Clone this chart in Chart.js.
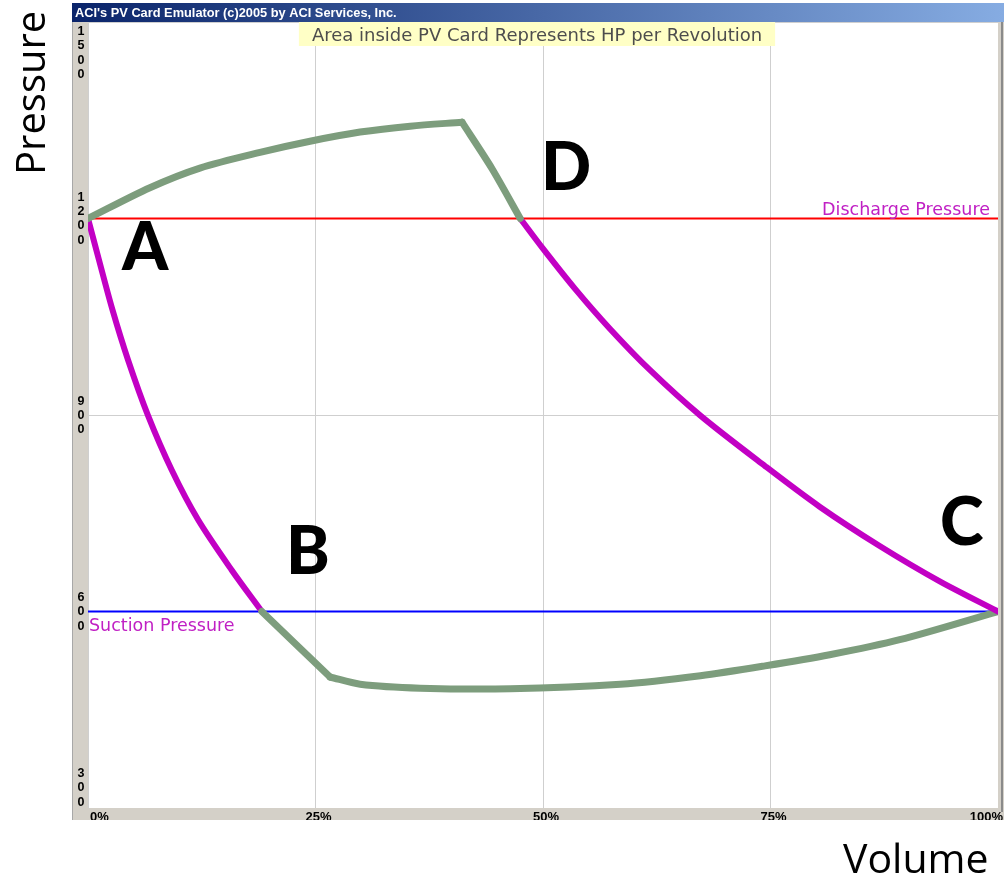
<!DOCTYPE html>
<html>
<head>
<meta charset="utf-8">
<title>PV Card</title>
<script src="https://cdn.jsdelivr.net/npm/chart.js@4.4.0/dist/chart.umd.min.js"></script>
<style>
  html, body { margin: 0; padding: 0; background: #fff; }
  #wrap { width: 1007px; height: 878px; position: relative; }
</style>
</head>
<body>
<div id="wrap"><canvas id="pv" width="1007" height="878"></canvas></div>
<script>
// axis ticks
const volumeTicks = [0, 25, 50, 75, 100];
const volumeTickLabels = ['0%', '25%', '50%', '75%', '100%'];
const pressureTicks = [300, 600, 900, 1200, 1500];
const pressureTickLabels = ['300', '600', '900', '1200', '1500'];

const dischargePressure = 1200;
const suctionPressure = 600;

// cycle pieces, volume in % and pressure
const dischargeVol = [0, 6.8, 12.3, 18.9, 24.4, 29.9, 35.4, 41.1];        // A -> peak
const dischargeP   = [1200, 1247, 1277, 1301, 1318, 1332, 1341, 1347];
const valveDropVol = [41.1, 44.4, 47.5];                                   // peak -> D
const valveDropP   = [1347, 1276, 1200];
const compressVol  = [47.5, 50, 53.5, 57.4, 61.8, 67.3, 74.4, 80.4, 87, 93.6, 100];   // D -> C
const compressP    = [1200, 1154, 1093, 1031, 968, 899, 822, 760, 700, 646, 600];
const suctionVol   = [100, 89.2, 81.5, 74.4, 67.3, 58.5, 46.4, 36.5, 29.9, 26.6];     // C -> corner
const suctionP     = [600, 557, 534, 517, 502, 489, 482, 483, 489, 500];
const valveRiseVol = [26.6, 22.7, 19.1];                                   // corner -> B
const valveRiseP   = [500, 552, 600];
const expandVol    = [19.1, 15.8, 12.1, 9.2, 6.6, 4.4, 2.7, 1.2, 0];       // B -> A
const expandP      = [600, 663, 740, 816, 899, 984, 1060, 1137, 1200];

const GREEN = '#7d9d7d';
const MAGENTA = '#c200c4';

const pts = (xs, ys) => xs.map((x, i) => ({ x: x, y: ys[i] }));

const curve = (xs, ys, color, w, tension) => ({
  data: pts(xs, ys),
  borderColor: color,
  borderWidth: w,
  pointRadius: 0,
  tension: tension,
  borderCapStyle: 'round',
  borderJoinStyle: 'round',
  showLine: true
});

const flat = (p, color) => ({
  data: [{ x: 0, y: p }, { x: 100, y: p }],
  borderColor: color,
  borderWidth: 2,
  pointRadius: 0,
  showLine: true
});

const frame = {
  id: 'frame',
  beforeDraw(chart) {
    const c = chart.ctx;
    c.save();
    c.fillStyle = '#fff';
    c.fillRect(0, 0, 1007, 878);
    c.restore();
  },
  afterDraw(chart) {
    const c = chart.ctx;
    const xs = chart.scales.x, ys = chart.scales.y;
    const area = chart.chartArea;
    c.save();

    // window strips
    c.fillStyle = '#d4d0c8';
    c.fillRect(72, 22, area.left - 72, 798);
    c.fillRect(72, area.bottom, 932, 820 - area.bottom);
    c.fillRect(area.right, 22, 6, 798);
    c.fillStyle = '#8a8a8a';
    c.fillRect(1001, 22, 2, 790);
    c.fillStyle = '#a8a8a8';
    c.fillRect(72, 22, 1, 798);

    // title bar
    const g = c.createLinearGradient(72, 0, 1004, 0);
    g.addColorStop(0, '#0a246a');
    g.addColorStop(1, '#86acE2');
    c.fillStyle = g;
    c.fillRect(72, 3, 932, 19);
    c.fillStyle = '#fff';
    c.font = 'bold 12.8px "Liberation Sans"';
    c.textAlign = 'left';
    c.textBaseline = 'alphabetic';
    c.fillText("ACI's PV Card Emulator (c)2005 by ACI Services, Inc.", 75, 17);

    // pressure tick labels, stacked digits
    c.fillStyle = '#000';
    c.font = 'bold 12.5px "Liberation Sans"';
    c.textAlign = 'center';
    c.textBaseline = 'middle';
    pressureTicks.forEach((v, i) => {
      const s = pressureTickLabels[i];
      const h = s.length * 14.3;
      let top = ys.getPixelForValue(v) - h / 2;
      top = Math.max(area.top + 2, Math.min(top, area.bottom + 1 - h));
      for (let k = 0; k < s.length; k++) {
        c.fillText(s[k], 81, top + 7.5 + k * 14.3);
      }
    });

    // volume tick labels, cut by the strip
    c.save();
    c.beginPath();
    c.rect(72, area.bottom, 932, 820 - area.bottom);
    c.clip();
    c.font = 'bold 13px "Liberation Sans"';
    c.textBaseline = 'top';
    volumeTicks.forEach((v, i) => {
      const px = xs.getPixelForValue(v);
      if (i === 0) { c.textAlign = 'left'; c.fillText(volumeTickLabels[i], px + 2, area.bottom + 3); }
      else if (i === volumeTicks.length - 1) { c.textAlign = 'right'; c.fillText(volumeTickLabels[i], px + 5, area.bottom + 3); }
      else { c.textAlign = 'center'; c.fillText(volumeTickLabels[i], px + 3, area.bottom + 3); }
    });
    c.restore();

    // note box
    const note = 'Area inside PV Card Represents HP per Revolution';
    c.font = '18px "DejaVu Sans"';
    const tw = c.measureText(note).width;
    c.fillStyle = '#ffffc6';
    c.fillRect(537 - tw / 2 - 13, 22, tw + 26, 24);
    c.fillStyle = '#4d4d4d';
    c.textAlign = 'center';
    c.textBaseline = 'alphabetic';
    c.fillText(note, 537, 41);

    // pressure line labels
    c.font = '17.5px "DejaVu Sans"';
    c.fillStyle = '#c020c4';
    c.textAlign = 'right';
    c.fillText('Discharge Pressure', 990, ys.getPixelForValue(dischargePressure) - 4);
    c.textAlign = 'left';
    c.fillText('Suction Pressure', 89, ys.getPixelForValue(suctionPressure) + 19);

    // point letters
    c.fillStyle = '#000';
    c.font = '900 66px Lato';
    c.textAlign = 'left';
    c.fillText('A', 122, 270);
    c.fillText('D', 541, 190);
    c.fillText('B', 286, 574);
    c.fillText('C', 940, 545);

    // axis names
    c.font = '41px "Open Sans"';
    c.fillText('Volume', 843, 873);
    c.translate(45, 175);
    c.rotate(-Math.PI / 2);
    c.font = '40px "Open Sans"';
    c.fillText('Pressure', 0, 0);

    c.restore();
  }
};

new Chart(document.getElementById('pv'), {
  type: 'scatter',
  data: {
    datasets: [
      curve(dischargeVol, dischargeP, GREEN, 7, 0.3),
      curve(valveDropVol, valveDropP, GREEN, 7, 0.25),
      curve(compressVol, compressP, MAGENTA, 6, 0.3),
      curve(suctionVol, suctionP, GREEN, 7, 0.3),
      curve(valveRiseVol, valveRiseP, GREEN, 7, 0),
      curve(expandVol, expandP, MAGENTA, 6, 0.3),
      flat(dischargePressure, '#ff0000'),
      flat(suctionPressure, '#0000ff')
    ]
  },
  options: {
    responsive: false,
    animation: false,
    devicePixelRatio: 1,
    layout: { padding: { left: 88, top: 22, right: 9, bottom: 70 } },
    plugins: { legend: { display: false }, tooltip: { enabled: false } },
    scales: {
      x: {
        type: 'linear', min: 0, max: 100,
        afterBuildTicks: s => { s.ticks = volumeTicks.map(v => ({ value: v })); },
        ticks: { display: false },
        grid: { color: '#cfcfcf', drawTicks: false },
        border: { display: false }
      },
      y: {
        type: 'linear', min: 300, max: 1500,
        afterBuildTicks: s => { s.ticks = pressureTicks.map(v => ({ value: v })); },
        ticks: { display: false },
        grid: { color: '#cfcfcf', drawTicks: false },
        border: { display: false }
      }
    }
  },
  plugins: [frame]
});
</script>
</body>
</html>
